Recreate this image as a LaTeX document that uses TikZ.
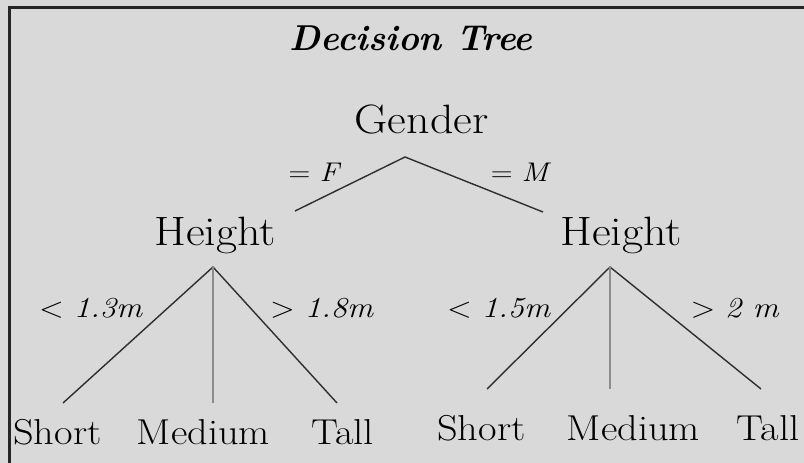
\documentclass[tikz,border=0pt]{standalone}
\usepackage{graphicx}
\definecolor{bggray}{HTML}{D9D9D9}
\definecolor{edgegray}{HTML}{2E2E2E}
\definecolor{midgray}{HTML}{8C8C8C}
\newcommand\hs[1]{\scalebox{1.12}[1]{#1}}
\tikzset{
  txt/.style={inner sep=0pt, anchor=base},
  titlefont/.style={font=\fontsize{36}{38}\selectfont\bfseries\itshape},
  nodefont/.style={font=\fontsize{41}{43}\selectfont},
  leaffont/.style={font=\fontsize{36}{38}\selectfont},
  labfont/.style={font=\fontsize{27}{29}\selectfont},
  thrfont/.style={font=\fontsize{29}{31}\selectfont},
  edge/.style={draw=edgegray, line width=1.4pt},
  midedge/.style={draw=midgray, line width=2pt},
}
\begin{document}
\begin{tikzpicture}[x=1pt,y=-1pt]
\useasboundingbox (0,0) rectangle (804,463);
\fill[bggray] (0,0) rectangle (804,463);
\draw[line width=3pt, black!85] (9,463) -- (9,7) -- (804,7);

% title
\node[txt, titlefont] (title) at (411,50) {\scalebox{0.98}[1]{Decision Tree}};

% root
\node[txt, nodefont] (gender) at (421.5,133) {\hs{Gender}};
\node[txt, labfont] (lF) at (315,181) {\hs{= \textit{F}}};
\node[txt, labfont] (lM) at (521,181) {\hs{= \textit{M}}};

% height nodes
\node[txt, nodefont] (hL) at (215,245) {\hs{Height}};
\node[txt, nodefont] (hR) at (621,245) {\hs{Height}};

% threshold labels
\node[txt, thrfont] (l13) at (91,317) {\hs{< \textit{1.3m}}};
\node[txt, thrfont] (l18) at (322,317) {\hs{> \textit{1.8m}}};
\node[txt, thrfont] (l15) at (499,317) {\hs{< \textit{1.5m}}};
\node[txt, thrfont] (l2) at (735,317) {\hs{> \textit{2 m}}};

% leaves
\node[txt, leaffont] (sL) at (57.5,444) {\hs{Short}};
\node[txt, leaffont] (mL) at (203.5,444) {\hs{Medium}};
\node[txt, leaffont] (tL) at (342.5,444) {\hs{Tall}};
\node[txt, leaffont] (sR) at (481.5,440) {\hs{Short}};
\node[txt, leaffont] (mR) at (633.5,440) {\hs{Medium}};
\node[txt, leaffont] (tR) at (768,440) {\hs{Tall}};

% connector end points
\coordinate (gA) at (405,157);
\coordinate (gAL) at (295,211);
\coordinate (gAR) at (543,212);
\coordinate (hLA) at (213,267);
\coordinate (hLs) at (63,403);
\coordinate (hLm) at (213,403);
\coordinate (hLt) at (337,403);
\coordinate (hRA) at (610,267);
\coordinate (hRs) at (487,389);
\coordinate (hRm) at (610,389);
\coordinate (hRt) at (761,389);

\draw[edge] (gAL) -- (gA) -- (gAR);
\draw[edge] (hLs) -- (hLA) -- (hLt);
\draw[midedge] (hLA) -- (hLm);
\draw[edge] (hRs) -- (hRA) -- (hRt);
\draw[midedge] (hRA) -- (hRm);
\end{tikzpicture}
\end{document}
